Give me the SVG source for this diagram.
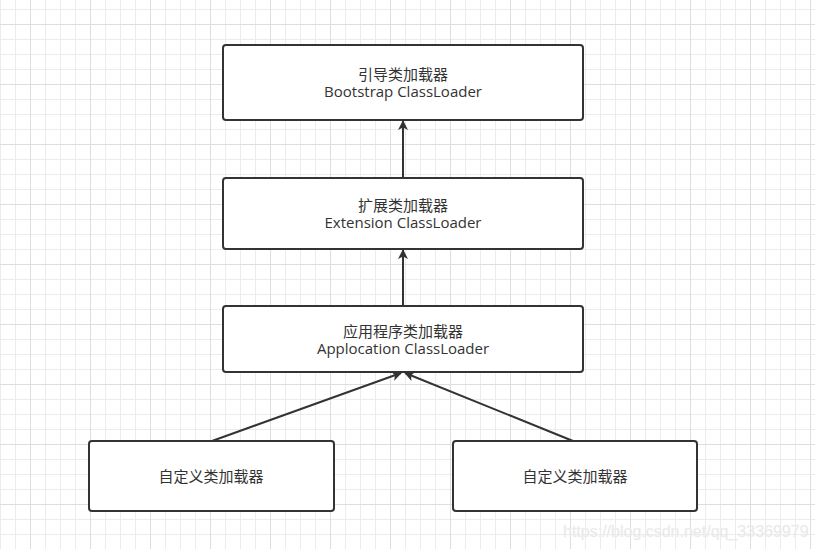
<svg xmlns="http://www.w3.org/2000/svg" width="815" height="549" viewBox="0 0 815 549">
<defs>
<pattern id="minor" x="0" y="9" width="15" height="15" patternUnits="userSpaceOnUse">
<path d="M0 0.5H15M0.5 0V15" fill="none" stroke="#ececec" stroke-width="1"/>
</pattern>
<pattern id="major" x="30" y="24" width="60" height="60" patternUnits="userSpaceOnUse">
<path d="M0 0.5H60M0.5 0V60" fill="none" stroke="#dedede" stroke-width="1"/>
</pattern>
<marker id="arr" viewBox="0 0 10 10" refX="9" refY="5" markerWidth="10" markerHeight="10" markerUnits="userSpaceOnUse" orient="auto">
<path d="M0 0L10 5L0 10L2.5 5Z" fill="#333"/>
</marker>
<style>
.box{fill:#fff;stroke:#333;stroke-width:2}
.t{font-family:"Open Sans","Noto Sans CJK SC",sans-serif;font-size:15px;fill:#333;text-anchor:middle}
.c{stroke:#333;stroke-width:2;fill:none;marker-end:url(#arr)}
</style>
</defs>
<rect width="815" height="549" fill="#fff"/>
<rect width="815" height="549" fill="url(#minor)"/>
<rect width="815" height="549" fill="url(#major)"/>
<g id="connectors">
<path class="c" d="M403 178V121"/>
<path class="c" d="M403 306V250"/>
<path class="c" d="M212 441L401 373"/>
<path class="c" d="M573 441L405 373"/>
</g>
<g id="bootstrap">
<rect class="box" x="223" y="45" width="360" height="75" rx="3"/>
<text class="t" x="403" y="80">引导类加载器</text>
<text class="t" x="403" y="97">Bootstrap ClassLoader</text>
</g>
<g id="extension">
<rect class="box" x="223" y="178" width="360" height="71" rx="3"/>
<text class="t" x="403" y="211">扩展类加载器</text>
<text class="t" x="403" y="228">Extension ClassLoader</text>
</g>
<g id="application">
<rect class="box" x="223" y="306" width="360" height="66" rx="3"/>
<text class="t" x="403" y="337">应用程序类加载器</text>
<text class="t" x="403" y="354">Applocation ClassLoader</text>
</g>
<g id="custom1">
<rect class="box" x="89" y="441" width="245" height="70" rx="3"/>
<text class="t" x="211" y="482">自定义类加载器</text>
</g>
<g id="custom2">
<rect class="box" x="453" y="441" width="244" height="70" rx="3"/>
<text class="t" x="575" y="482">自定义类加载器</text>
</g>
<text x="563" y="537" font-family="Liberation Sans, Arial, sans-serif" font-size="16" fill="#e6e6e6" stroke="#f4f4f4" stroke-width="0.3">https://blog.csdn.net/qq_33369979</text>
</svg>
